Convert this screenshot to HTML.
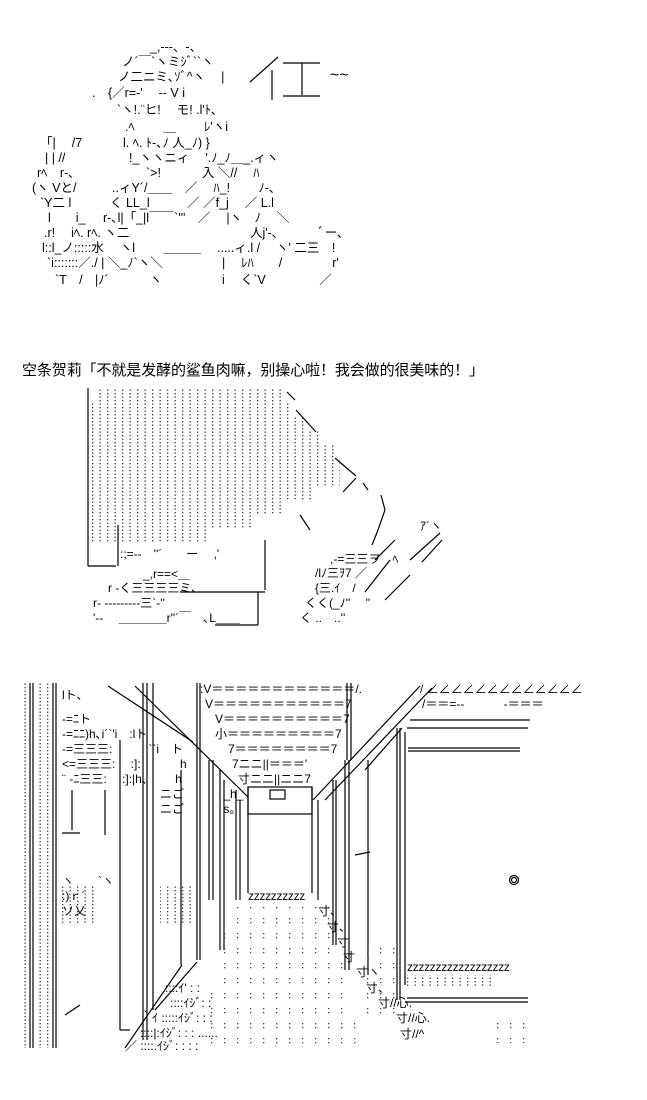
<!DOCTYPE html>
<html><head><meta charset="utf-8">
<style>
html,body{margin:0;padding:0;background:#fff;}
body{width:647px;height:1100px;position:relative;overflow:hidden;font-family:"Liberation Sans","Noto Sans CJK JP",sans-serif;color:#000;}
.t{position:absolute;white-space:pre;font-size:12px;line-height:12px;}
.a{font-size:12.5px;}
.cap{position:absolute;left:22px;top:359px;font-size:15px;white-space:pre;font-family:"Liberation Sans","Noto Sans CJK SC",sans-serif;letter-spacing:-0.1px;}
svg{position:absolute;left:0;top:0;}
</style></head><body>
<svg width="647" height="1100" viewBox="0 0 647 1100">
<defs>
<pattern id="d" width="7.5" height="7" patternUnits="userSpaceOnUse"><rect x="2" y="1" width="1.3" height="1.3" fill="#333"/><rect x="2" y="4.5" width="1.3" height="1.3" fill="#333"/></pattern>
<pattern id="d2" width="13" height="15" patternUnits="userSpaceOnUse"><rect x="3" y="3" width="1.3" height="1.3" fill="#444"/><rect x="3" y="7" width="1.3" height="1.3" fill="#444"/></pattern>
</defs>
<g stroke="#000" stroke-width="1.2" fill="none">
<line x1="278" y1="57" x2="250" y2="82"/><line x1="272" y1="70" x2="272" y2="100"/>
<line x1="283" y1="63" x2="320" y2="63"/><line x1="302" y1="63" x2="302" y2="95"/><line x1="283" y1="96" x2="320" y2="96"/>
<line x1="88" y1="388" x2="88" y2="566"/><line x1="88" y1="566" x2="116" y2="566"/><line x1="118" y1="525" x2="118" y2="566"/>
<line x1="287" y1="392" x2="295" y2="400"/><line x1="296" y1="410" x2="316" y2="432"/><line x1="335" y1="458" x2="356" y2="476"/>
<line x1="356" y1="478" x2="343" y2="492"/><line x1="363" y1="483" x2="368" y2="490"/><path d="M381 495 L385 510 L378 530 L372 545"/>
<line x1="300" y1="515" x2="310" y2="530"/><line x1="265" y1="540" x2="265" y2="590"/><line x1="180" y1="592" x2="265" y2="592"/>
<line x1="258" y1="592" x2="258" y2="625"/><line x1="215" y1="625" x2="258" y2="625"/>
<line x1="395" y1="540" x2="375" y2="560"/><line x1="442" y1="540" x2="422" y2="562"/><line x1="440" y1="533" x2="410" y2="560"/>
<line x1="390" y1="560" x2="365" y2="592"/><line x1="410" y1="575" x2="385" y2="600"/>
<line x1="30" y1="683" x2="30" y2="1048"/><line x1="33" y1="683" x2="33" y2="1048"/>
<line x1="53" y1="683" x2="53" y2="1048"/><line x1="56" y1="683" x2="56" y2="1048"/>
<line x1="108" y1="686" x2="193" y2="742"/><line x1="135" y1="686" x2="248" y2="797"/>
<line x1="120" y1="740" x2="120" y2="1030"/><line x1="120" y1="1030" x2="130" y2="1030"/>
<line x1="143" y1="683" x2="143" y2="1040"/><line x1="147" y1="683" x2="147" y2="1040"/><line x1="153" y1="683" x2="153" y2="1010"/>
<line x1="181" y1="770" x2="181" y2="965"/>
<line x1="197" y1="683" x2="197" y2="960"/><line x1="200" y1="683" x2="200" y2="960"/>
<line x1="72" y1="790" x2="72" y2="830"/><line x1="105" y1="790" x2="105" y2="835"/><line x1="62" y1="833" x2="80" y2="833"/>
<line x1="197" y1="962" x2="155" y2="1010"/><line x1="182" y1="965" x2="125" y2="1048"/><line x1="65" y1="1015" x2="80" y2="1005"/>
<line x1="347" y1="683" x2="347" y2="760"/><line x1="351" y1="683" x2="351" y2="760"/>
<rect x="248" y="787" width="64" height="27"/><rect x="270" y="790" width="15" height="9"/>
<line x1="248" y1="787" x2="248" y2="893"/><line x1="312" y1="787" x2="312" y2="893"/>
<line x1="209" y1="760" x2="209" y2="900"/><line x1="213" y1="760" x2="213" y2="900"/><line x1="220" y1="770" x2="220" y2="950"/><line x1="224" y1="780" x2="224" y2="950"/>
<line x1="236" y1="790" x2="236" y2="900"/><line x1="240" y1="800" x2="240" y2="900"/>
<line x1="420" y1="686" x2="313" y2="800"/><line x1="432" y1="688" x2="325" y2="800"/><line x1="402" y1="728" x2="365" y2="770"/>
<line x1="318" y1="800" x2="318" y2="900"/><line x1="333" y1="780" x2="333" y2="945"/><line x1="336" y1="780" x2="336" y2="945"/>
<line x1="345" y1="760" x2="345" y2="970"/><line x1="349" y1="760" x2="349" y2="970"/><line x1="368" y1="760" x2="368" y2="975"/>
<line x1="397" y1="728" x2="397" y2="1000"/><line x1="400" y1="728" x2="400" y2="1000"/><line x1="405" y1="732" x2="405" y2="985"/>
<line x1="410" y1="720" x2="530" y2="720"/><line x1="407" y1="728" x2="528" y2="728"/>
<line x1="408" y1="748" x2="520" y2="748"/><line x1="408" y1="751" x2="520" y2="751"/>
<line x1="405" y1="1002" x2="528" y2="1002"/><line x1="407" y1="998" x2="528" y2="998"/>
<line x1="355" y1="855" x2="370" y2="852"/>
<circle cx="514" cy="880" r="4.5"/><circle cx="514" cy="880" r="2.5"/>
</g>
<rect x="37" y="683" width="13" height="365" fill="url(#d)"/>
<rect x="22" y="683" width="5" height="365" fill="url(#d)"/>
<rect x="95" y="388" width="192" height="14" fill="url(#d)"/>
<rect x="90" y="402" width="203" height="14" fill="url(#d)"/>
<rect x="90" y="416" width="215" height="14" fill="url(#d)"/>
<rect x="90" y="430" width="232" height="14" fill="url(#d)"/>
<rect x="90" y="444" width="245" height="14" fill="url(#d)"/>
<rect x="90" y="458" width="250" height="28" fill="url(#d)"/>
<rect x="90" y="486" width="222" height="14" fill="url(#d)"/>
<rect x="90" y="500" width="197" height="14" fill="url(#d)"/>
<rect x="90" y="514" width="165" height="14" fill="url(#d)"/>
<rect x="90" y="528" width="120" height="14" fill="url(#d)"/>
<rect x="62" y="885" width="35" height="40" fill="url(#d)"/>
<rect x="160" y="885" width="35" height="40" fill="url(#d)"/>
<polygon points="230,905 330,905 360,1045 200,1045" fill="url(#d2)"/>
<polygon points="360,940 395,940 395,1020 365,1020" fill="url(#d2)"/>
<rect x="407" y="975" width="90" height="12" fill="url(#d)"/>
<rect x="490" y="1018" width="45" height="25" fill="url(#d2)"/>
</svg>

<div class="t a" style="left:150px;top:41px">_,-‐-、-、</div>
<div class="t a" style="left:122px;top:56px">ノ´￣`ヽミｼﾞ``ヽ</div>
<div class="t a" style="left:118px;top:71px">ノ二ニミ､ｿﾞ^ヽ　 |</div>
<div class="t" style="left:330px;top:70px;font-size:16px">~~</div>
<div class="t a" style="left:92px;top:87px">.　{／r=-'　 -- V i</div>
<div class="t a" style="left:117px;top:104px">`ヽ!.¨ヒ!　 モ! .l'ﾄ､</div>
<div class="t a" style="left:125px;top:121px">.ﾍ　　 ＿　　 ﾚ'ヽi</div>
<div class="t a" style="left:40px;top:137px">「|　 /7</div>
<div class="t a" style="left:123px;top:137px">l. ﾍ. ﾄ-､ﾉ 人_ﾉ) }</div>
<div class="t a" style="left:45px;top:152px">| | //</div>
<div class="t a" style="left:129px;top:152px">!_ヽヽニィ　 '.ﾉ_ﾉ＿_.ィヽ</div>
<div class="t a" style="left:37px;top:167px">rﾍ　r-､</div>
<div class="t a" style="left:146px;top:167px">`&gt;!　　　 入 ＼//　 ﾊ</div>
<div class="t a" style="left:32px;top:182px">(ヽ Vと/</div>
<div class="t a" style="left:112px;top:182px">..ィY´/＿＿　／　 ﾊ_!　　 ﾉ-､</div>
<div class="t a" style="left:40px;top:197px">`Y二 l</div>
<div class="t a" style="left:110px;top:197px">く LL_l　　　／ ／f_j　 ／ L.l</div>
<div class="t a" style="left:48px;top:212px">l　　i_</div>
<div class="t a" style="left:103px;top:212px">r-､l|「_|l￣￣`'''　／　 |ヽ　ﾉ　 ＼</div>
<div class="t a" style="left:44px;top:227px">.r!　 iﾍ. rﾍ. ヽ二</div>
<div class="t a" style="left:250px;top:227px">人j'-､　　　 ﾞー､</div>
<div class="t a" style="left:42px;top:242px">l::l_ノ:::::水　 ヽl　　 ＿＿＿　 .....ィ.l /　 ヽ' 二三　!</div>
<div class="t a" style="left:47px;top:257px">`i:::::::／./ | ＼_ﾉ`ヽ＼</div>
<div class="t a" style="left:222px;top:257px">|　 ﾚﾊ　　/　　　　r'</div>
<div class="t a" style="left:55px;top:274px">`T　/　|ﾉ´　　　 ヽ</div>
<div class="t a" style="left:222px;top:274px">i　 く`V　　　　 ／</div>

<div class="cap">空条贺莉「不就是发酵的鲨鱼肉嘛，别操心啦！我会做的很美味的！」</div>

<div class="t" style="left:120px;top:548px">:;=--　''´　　ー　 ,'</div>
<div class="t" style="left:143px;top:568px">_,r==&lt;＿</div>
<div class="t" style="left:108px;top:582px">r -く三三三三ミ､</div>
<div class="t" style="left:93px;top:597px">r- ---------三`-''</div>
<div class="t" style="left:93px;top:612px">'--　 ＿＿＿＿r''´￣　､L＿＿</div>
<div class="t" style="left:330px;top:553px">,-=三三ヲ　ﾍ</div>
<div class="t" style="left:315px;top:567px">/lﾉ三ｦ7 ／</div>
<div class="t" style="left:315px;top:582px">{三.ｲ　/</div>
<div class="t" style="left:305px;top:597px">くく(_ﾉ''　 ''</div>
<div class="t" style="left:300px;top:612px">く ..　..''</div>
<div class="t" style="left:420px;top:520px">ｱ´ヽ</div>

<div class="t" style="left:200px;top:683px">:V＝＝＝＝＝＝＝＝＝＝＝＝/.</div>
<div class="t" style="left:205px;top:698px">V＝＝＝＝＝＝＝＝＝＝＝7</div>
<div class="t" style="left:215px;top:713px">V＝＝＝＝＝＝＝＝＝＝7</div>
<div class="t" style="left:215px;top:728px">小＝＝＝＝＝＝＝＝＝7</div>
<div class="t" style="left:228px;top:743px">7＝＝＝＝＝＝＝＝7</div>
<div class="t" style="left:232px;top:758px">7ニニ||＝＝＝'</div>
<div class="t" style="left:238px;top:773px">寸ニニ||ニニ7</div>
<div class="t" style="left:420px;top:683px">/ ∠∠∠∠∠∠∠∠∠∠∠∠∠</div>
<div class="t" style="left:422px;top:698px">/＝＝=--　　　 -＝＝＝</div>
<div class="t" style="left:62px;top:689px">lト、</div>
<div class="t" style="left:62px;top:713px">-=ﾆト</div>
<div class="t" style="left:62px;top:728px">-=ﾆﾆ)h､i´`'i　:lト</div>
<div class="t" style="left:62px;top:743px">-=三三三:　　　``i　ト</div>
<div class="t" style="left:62px;top:758px">&lt;=三三三:　 :]:　　　 h</div>
<div class="t" style="left:62px;top:773px">¨ -ﾆ三三:　 :]:|h､　　 h</div>
<div class="t" style="left:160px;top:788px">ニご　　　 _h_</div>
<div class="t" style="left:160px;top:803px">ニご　　　 s｡</div>
<div class="t" style="left:62px;top:875px">ヽ　　`ヽ</div>
<div class="t" style="left:62px;top:890px">:)ｒ´</div>
<div class="t" style="left:62px;top:905px">ソ乂</div>
<div class="t" style="left:248px;top:890px;letter-spacing:-0.3px">zzzzzzzzzz</div>
<div class="t" style="left:407px;top:961px;letter-spacing:-0.3px">zzzzzzzzzzzzzzzzzz</div>
<div class="t" style="left:318px;top:905px">寸、</div>
<div class="t" style="left:327px;top:921px">寸、</div>
<div class="t" style="left:337px;top:936px">寸</div>
<div class="t" style="left:343px;top:951px">寸</div>
<div class="t" style="left:356px;top:966px">寸ヽ</div>
<div class="t" style="left:366px;top:982px">寸、</div>
<div class="t" style="left:378px;top:997px">寸//心.</div>
<div class="t" style="left:396px;top:1012px">寸//心.</div>
<div class="t" style="left:400px;top:1028px">寸//^</div>
<div class="t" style="left:165px;top:982px">::::ｲ' : :</div>
<div class="t" style="left:170px;top:997px">::::ｲｼﾞ: :</div>
<div class="t" style="left:140px;top:1012px">｀ｲ :::::ｲｼﾞ: : :</div>
<div class="t" style="left:140px;top:1027px">::::|:ｲｼﾞ: : : ......</div>
<div class="t" style="left:125px;top:1040px">／ ::::.ｲｼﾞ: : : :</div>
</body></html>
